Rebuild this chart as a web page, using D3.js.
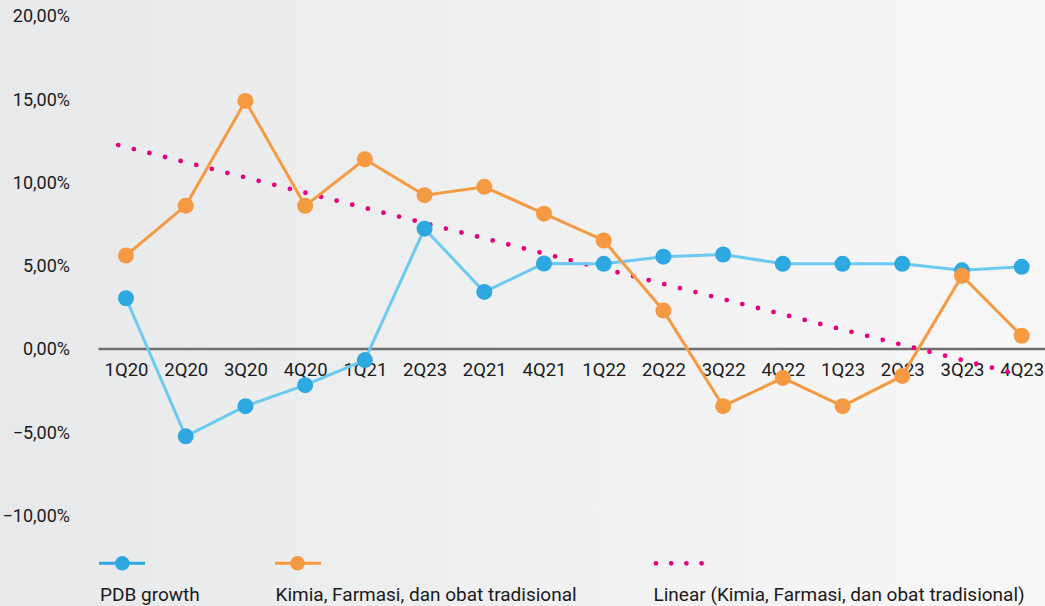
<!DOCTYPE html>
<html>
<head>
<meta charset="utf-8">
<script src="https://cdn.jsdelivr.net/npm/d3@7/dist/d3.min.js"></script>
<style>
  html, body { margin: 0; padding: 0; }
  svg { display: block; font-family: Roboto, "Noto Sans", sans-serif; }
</style>
</head>
<body>
<svg id="chart" width="1045" height="606"></svg>
<script>
const categories = ["1Q20","2Q20","3Q20","4Q20","1Q21","2Q23","2Q21","4Q21","1Q22","2Q22","3Q22","4Q22","1Q23","2Q23","3Q23","4Q23"];
const pdbGrowth = [3.05, -5.24, -3.43, -2.17, -0.66, 7.23, 3.43, 5.14, 5.12, 5.55, 5.68, 5.12, 5.12, 5.12, 4.73, 4.94];
const kimiaFarmasi = [5.62, 8.61, 14.90, 8.60, 11.40, 9.24, 9.74, 8.13, 6.52, 2.31, -3.43, -1.73, -3.43, -1.61, 4.40, 0.80];
const trendIndex = [-0.13, 15];
const trendValues = [12.25, -1.57];
const yTicks = [20, 15, 10, 5, 0, -5, -10];
const seriesNames = ["PDB growth", "Kimia, Farmasi, dan obat tradisional", "Linear (Kimia, Farmasi, dan obat tradisional)"];

const W = 1045, H = 606;
const svg = d3.select("#chart");

const defs = svg.append("defs");
const grad = defs.append("linearGradient").attr("id","bg").attr("x1","0").attr("x2","1").attr("y1","0").attr("y2","0");
grad.append("stop").attr("offset","0").attr("stop-color","#e8e9ea");
grad.append("stop").attr("offset","1").attr("stop-color","#f7f7f7");
svg.append("rect").attr("width",W).attr("height",H).attr("fill","url(#bg)");

// categories contain a duplicate label, so position by index
const idx = d3.range(categories.length);
const x = d3.scalePoint().domain(idx).range([126, 1021.7]);
const xi = d3.scaleLinear().domain([0, categories.length - 1]).range([126, 1021.7]);
const y = d3.scaleLinear().domain([-10, 20]).range([515.6, 16]);

const blueMarker = "#2ea8e0", blueLine = "#6ccaf0", orange = "#f59a43", pink = "#e6007e";
const textColor = "#1a1a1a";

// Y axis labels
const yAxis = d3.axisLeft(y).tickValues(yTicks).tickSize(0).tickPadding(0)
  .tickFormat(d => d3.format(".2f")(d).replace(".", ",") + "%");
const gy = svg.append("g").attr("transform","translate(70,0)").call(yAxis);
gy.select(".domain").remove();
gy.selectAll("text").attr("font-size", 18).attr("fill", textColor).attr("font-family","Roboto");

// X axis labels
const xAxis = d3.axisBottom(x).tickSize(0).tickPadding(0).tickFormat(i => categories[i]);
const gx = svg.append("g").attr("transform", `translate(0,${y(0)})`).call(xAxis);
gx.select(".domain").remove();
gx.selectAll("text").attr("font-size", 18.5).attr("fill", textColor).attr("font-family","Roboto")
  .attr("dy", null).attr("y", 22.5).attr("dominant-baseline","middle");

// zero line
svg.append("line").attr("x1", 98.5).attr("x2", W).attr("y1", y(0)).attr("y2", y(0))
  .attr("stroke", "#6e6e70").attr("stroke-width", 2.6);

// trend line
svg.append("line")
  .attr("x1", xi(trendIndex[0])).attr("y1", y(trendValues[0]))
  .attr("x2", xi(trendIndex[1])).attr("y2", y(trendValues[1]))
  .attr("stroke", pink).attr("stroke-width", 4.8).attr("stroke-linecap","round")
  .attr("stroke-dasharray", "0 16.1");

const line = d3.line().x((d,i) => x(i)).y(d => y(d));

function drawSeries(vals, lineColor, markerColor) {
  svg.append("path").datum(vals).attr("d", line).attr("fill","none")
    .attr("stroke", lineColor).attr("stroke-width", 3).attr("stroke-linejoin","round");
  svg.append("g").selectAll("circle").data(vals).join("circle")
    .attr("cx", (d,i) => x(i)).attr("cy", d => y(d)).attr("r", 8)
    .attr("fill", markerColor);
}
drawSeries(pdbGrowth, blueLine, blueMarker);
drawSeries(kimiaFarmasi, orange, orange);

// Legend
const legY = 563.3, legTextY = 601;
const lg = svg.append("g");
lg.append("line").attr("x1", 99).attr("x2", 145).attr("y1", legY).attr("y2", legY)
  .attr("stroke", blueMarker).attr("stroke-width", 3);
lg.append("circle").attr("cx", 122.3).attr("cy", legY).attr("r", 7.3).attr("fill", blueMarker);
lg.append("text").attr("x", 100).attr("y", legTextY).text(seriesNames[0]);
lg.append("line").attr("x1", 275).attr("x2", 321).attr("y1", legY).attr("y2", legY)
  .attr("stroke", orange).attr("stroke-width", 3);
lg.append("circle").attr("cx", 297.5).attr("cy", legY).attr("r", 7.3).attr("fill", orange);
lg.append("text").attr("x", 275.5).attr("y", legTextY).text(seriesNames[1]);
lg.append("line").attr("x1", 656).attr("x2", 702).attr("y1", legY).attr("y2", legY)
  .attr("stroke", pink).attr("stroke-width", 4.8).attr("stroke-linecap","round")
  .attr("stroke-dasharray", "0 15.2");
lg.append("text").attr("x", 653.5).attr("y", legTextY).text(seriesNames[2]);
lg.selectAll("text").attr("font-size", 19).attr("fill", textColor).attr("font-family","Roboto");
</script>
</body>
</html>
